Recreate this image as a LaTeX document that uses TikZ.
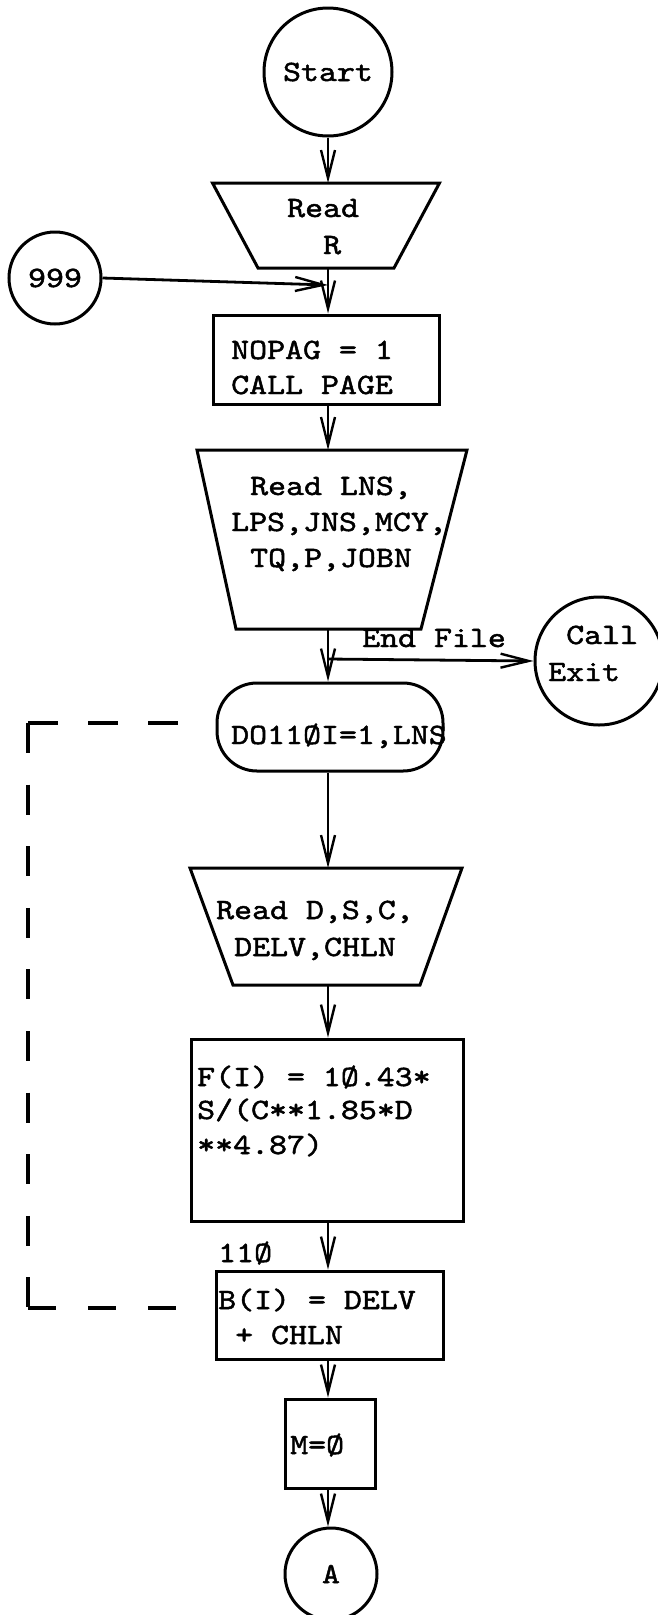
\documentclass[tikz,border=0pt]{standalone}
\usepackage{fontspec}
\setmonofont{lmmono10-regular.otf}[FakeStretch=1.16,FakeBold=1.6]
\usetikzlibrary{arrows.meta}
\tikzset{
  lw/.style={line width=3pt},
  shp/.style={lw, draw, inner sep=0pt},
  hid/.style={inner sep=0pt, outer sep=0pt},
  circ/.style={shp, circle, font=\ttfamily\fontsize{29.5}{36}\selectfont},
  txt/.style={anchor=base west, inner sep=0pt, font=\ttfamily\fontsize{29.5}{36}\selectfont},
  arr/.style={line width=2.8pt, -{Straight Barb[length=28pt,width=14pt,line width=2.4pt]}},
  loopline/.style={line width=3.2pt},
}
\begin{document}
\begin{tikzpicture}[x=1pt,y=-1pt]
\useasboundingbox (0,0) rectangle (658,1615);
% shapes
\node[circ, minimum size=128pt] (start) at (328,72) {Start};
\node[hid, minimum width=227pt, minimum height=85pt] (readR) at (326,225.5) {};
\draw[lw] (readR.north west) -- (readR.north east) -- ([xshift=-45.5pt]readR.south east) -- ([xshift=45.5pt]readR.south west) -- cycle;
\node[circ, minimum size=92pt] (n999) at (55,278) {999};
\node[shp, minimum width=226pt, minimum height=89pt] (nopag) at (326,359.5) {};
\node[hid, minimum width=270pt, minimum height=179pt] (rd2) at (332,539.5) {};
\draw[lw] (rd2.north west) -- (rd2.north east) -- ([xshift=-46pt]rd2.south east) -- ([xshift=39pt]rd2.south west) -- cycle;
\node[circ, minimum size=128pt] (exit) at (599,661) {};
\node[shp, minimum width=226pt, minimum height=88pt, rounded corners=40pt] (do) at (330,727) {};
\node[hid, minimum width=272pt, minimum height=117pt] (rd3) at (326,926.5) {};
\draw[lw] (rd3.north west) -- (rd3.north east) -- ([xshift=-42pt]rd3.south east) -- ([xshift=43pt]rd3.south west) -- cycle;
\node[shp, minimum width=272pt, minimum height=182pt] (fbox) at (327,1130) {};
\node[shp, minimum width=227pt, minimum height=88pt] (bbox) at (329.5,1315) {};
\node[shp, minimum width=90pt, minimum height=89pt] (mbox) at (330,1443.5) {};
\node[circ, minimum size=92pt] (nA) at (331,1574) {A};
% texts
\node[txt] (tRead) at (287,217) {Read};
\node[txt] (tR) at (323,254) {R};
\node[txt] (tNop1) at (231,359) {NOPAG = 1};
\node[txt] (tNop2) at (231,394) {CALL PAGE};
\node[txt] (tRd21) at (250,495) {Read LNS,};
\node[txt] (tRd22) at (231,531) {LPS,JNS,MCY,};
\node[txt] (tRd23) at (250,567) {TQ,P,JOBN};
\node[txt] (tEnd) at (362,647) {End File};
\node[txt] (tCall) at (566,644) {Call};
\node[txt] (tExit) at (548,681) {Exit};
\node[txt] (tDo) at (231,744) {DO11ØI=1,LNS};
\node[txt] (tRd31) at (216,919) {Read D,S,C,};
\node[txt] (tRd32) at (234,956) {DELV,CHLN};
\node[txt] (tF1) at (197,1086) {F(I) = 1Ø.43*};
\node[txt] (tF2) at (197,1119) {S/(C**1.85*D};
\node[txt] (tF3) at (197,1154) {**4.87)};
\node[txt] (t110) at (218,1262) {11Ø};
\node[txt] (tB1) at (218,1309) {B(I) = DELV};
\node[txt] (tB2) at (235,1344) {+ CHLN};
\node[txt] (tM) at (290,1454) {M=Ø};
% connectors
\coordinate (j999) at (328,285);
\coordinate (br) at (328,659);
\draw[arr] (start.south -| 328,0) -- (readR.north -| 328,0);
\draw[arr] (n999.east) -- (j999);
\draw[arr] (328,268) -- (nopag.north -| 328,0);
\draw[arr] (nopag.south -| 328,0) -- (rd2.north -| 328,0);
\draw[arr] (328,629) -- (do.north -| 328,0);
\draw[arr] (br) -- (exit.west);
\draw[arr] (do.south -| 328,0) -- (rd3.north -| 328,0);
\draw[arr] (rd3.south -| 328,0) -- (fbox.north -| 328,0);
\draw[arr] (fbox.south -| 328,0) -- (bbox.north -| 328,0);
\draw[arr] (bbox.south -| 328,0) -- (mbox.north -| 328,0);
\draw[arr] (mbox.south -| 328,0) -- (nA.north -| 328,0);
% dashed loop
\coordinate (lpTL) at (28,723);
\coordinate (lpTR) at (182,723);
\coordinate (lpBL) at (28,1308);
\coordinate (lpBR) at (183,1308);
\draw[loopline, dash pattern=on 30pt off 30pt] (lpTL) -- (lpTR);
\draw[loopline, dash pattern=on 30pt off 31.6pt] (lpTL) -- (lpBL);
\draw[loopline, dash pattern=on 28pt off 32pt] (lpBL) -- (lpBR);
\end{tikzpicture}
\end{document}
